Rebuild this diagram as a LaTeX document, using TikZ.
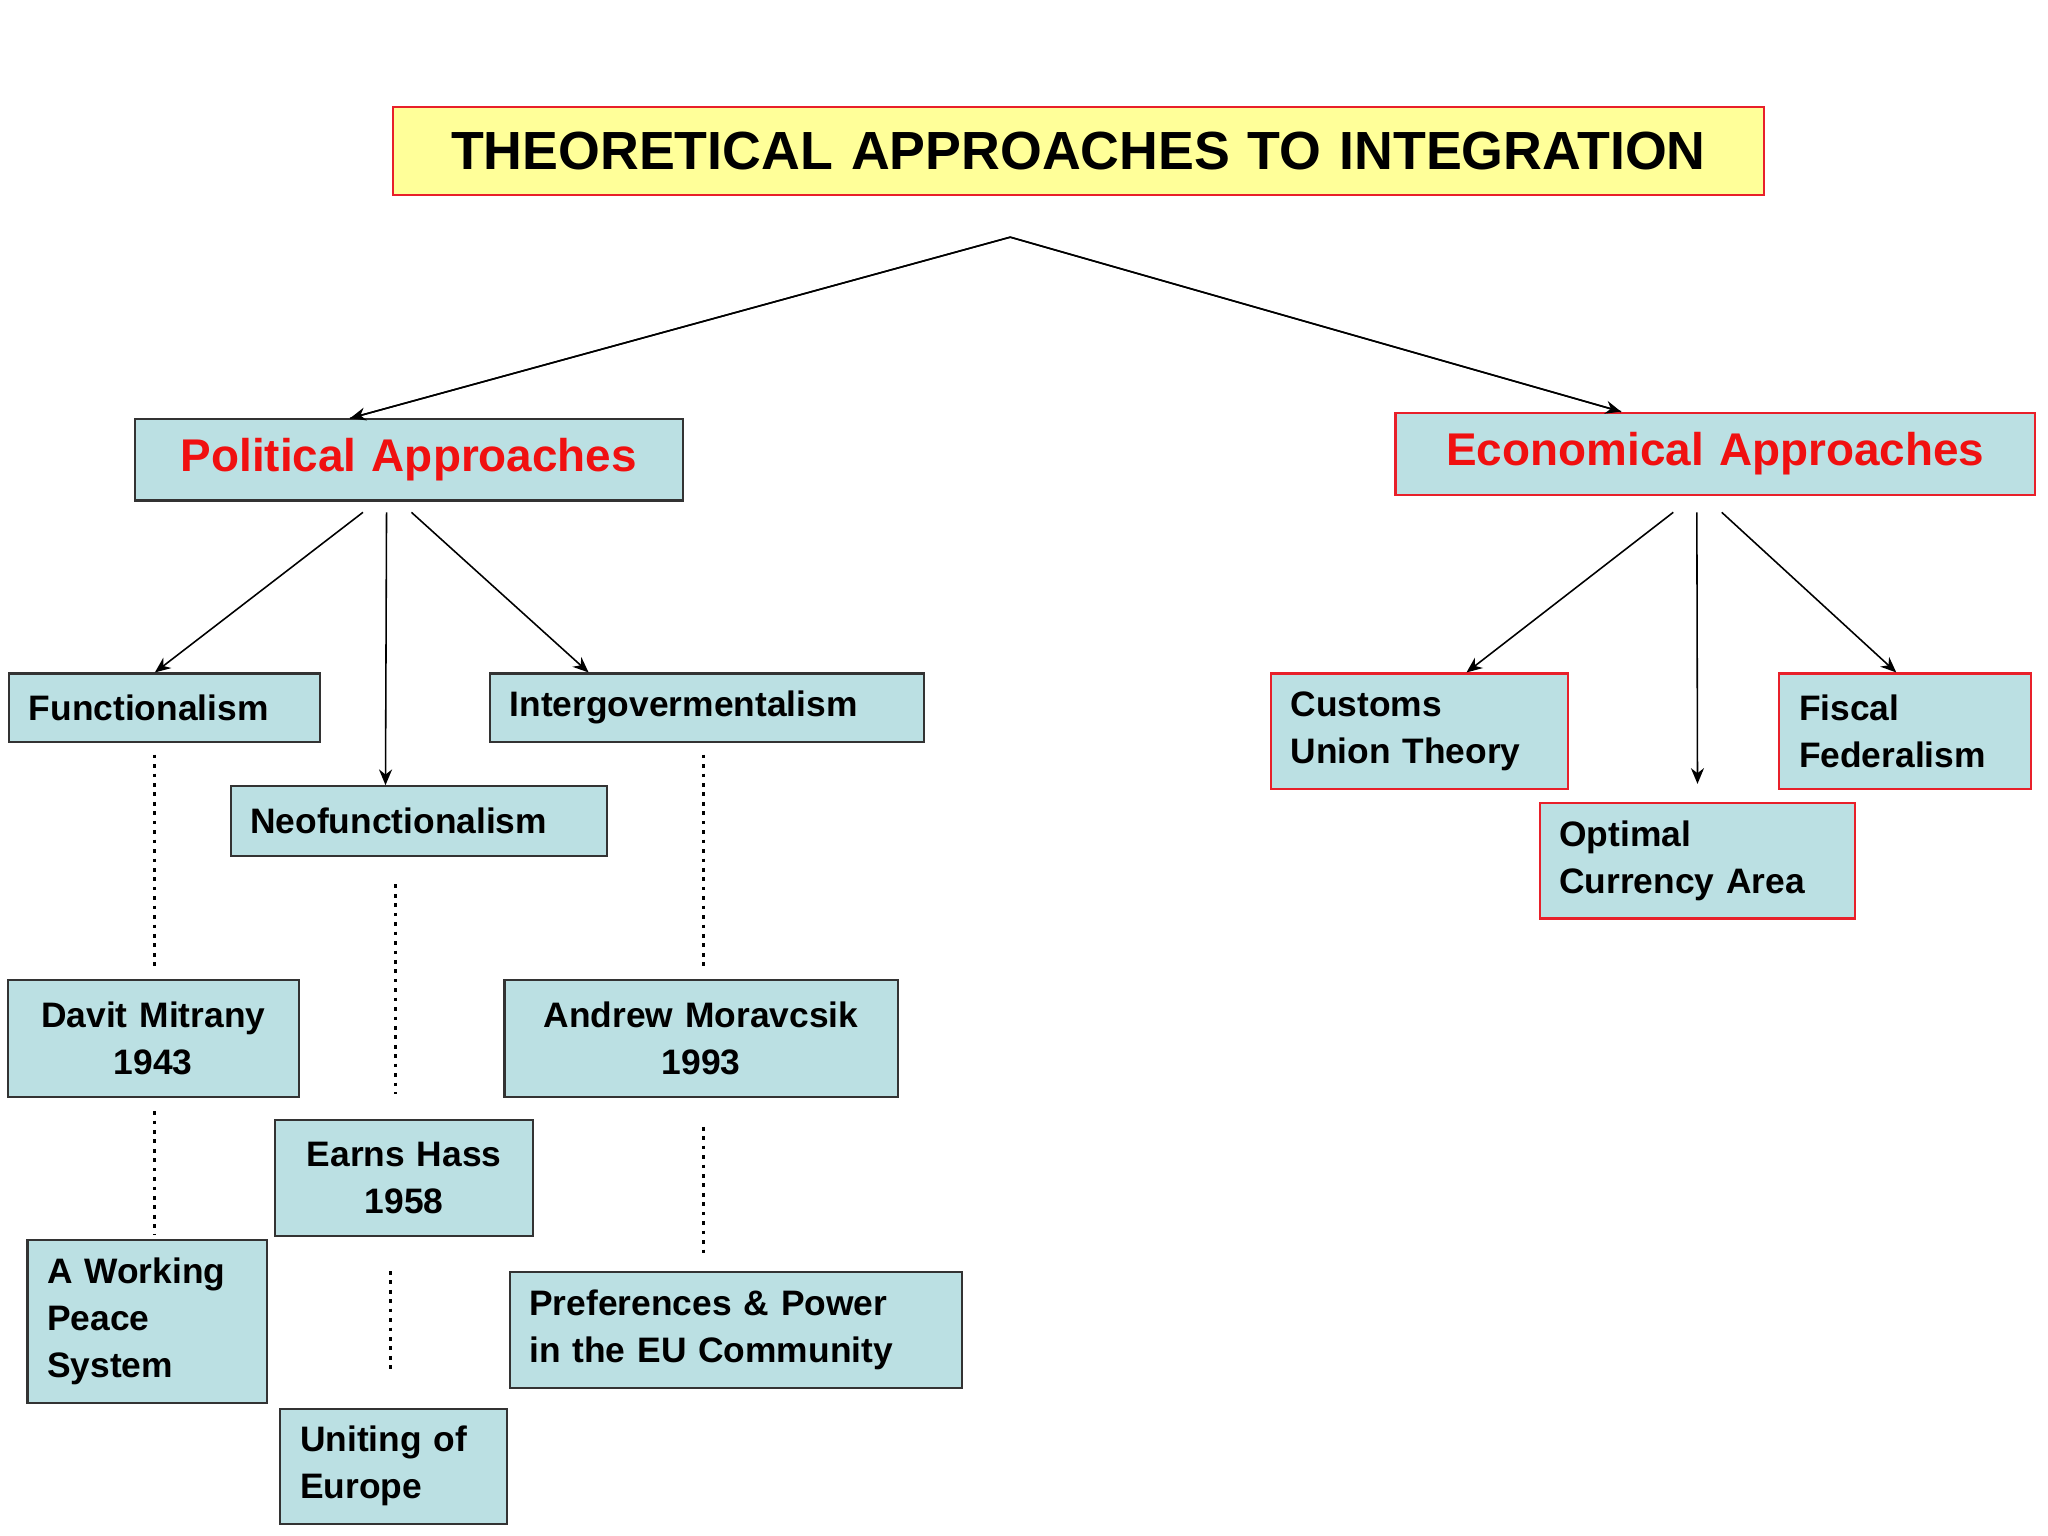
\documentclass[tikz,border=0pt]{standalone}
\usepackage{fontspec}
\setmainfont{Liberation Sans}
\usetikzlibrary{arrows.meta}
\definecolor{boxfill}{HTML}{BBE0E3}
\definecolor{titlefill}{HTML}{FFFF99}
\definecolor{redb}{HTML}{E8202A}
\definecolor{redt}{HTML}{F01010}
\begin{document}
\begin{tikzpicture}[x=0.5pt,y=-0.5pt,
  box/.style={draw=black!80, line width=0.8pt, fill=boxfill, inner xsep=7.5pt, inner ysep=0pt,
    font=\fontsize{13.5}{18}\selectfont\bfseries, align=left},
  rbox/.style={box, draw=redb},
  head/.style={box, align=center, text=redt, font=\fontsize{17.5}{20}\selectfont\bfseries},
  arr/.style={-{Stealth[length=6pt,width=5pt]}, line width=0.6pt},
  dots/.style={line width=1.3pt, dash pattern=on 1.4pt off 2.2pt}]
\useasboundingbox (0,0) rectangle (1563,1172);
\node[box, draw=redb, fill=titlefill, align=center, text width=508pt, minimum height=33.5pt,
  font=\fontsize{20.5}{24}\selectfont\bfseries] (title) at (823,115.5) {THEORETICAL APPROACHES TO INTEGRATION};
\node[head, text width=194pt, minimum height=31pt] (pol) at (312,351) {Political Approaches};
\node[head, draw=redb, text width=229pt, minimum height=31.5pt] (eco) at (1309,346.5) {Economical Approaches};
\node[box, text width=103.5pt, minimum height=26pt] (fun) at (125.5,540) {Functionalism};
\node[box, text width=128.5pt, minimum height=26.5pt] (neo) at (319.5,626.5) {Neofunctionalism};
\node[box, text width=150.5pt, minimum height=26pt] (ig) at (539.5,540) {Intergovermentalism};
\node[box, align=center, text width=96pt, minimum height=44.5pt] (dm) at (117,792.5) {Davit Mitrany\\1943};
\node[box, align=center, text width=83.5pt, minimum height=44pt] (eh) at (308.5,899) {Earns Hass\\1958};
\node[box, align=center, text width=135pt, minimum height=44.5pt] (am) at (535,792.5) {Andrew Moravcsik\\1993};
\node[box, text width=76.5pt, minimum height=62.5pt] (wp) at (112.5,1008.5) {A Working\\Peace\\System};
\node[box, text width=71.5pt, minimum height=44pt] (ue) at (300.5,1119) {Uniting of\\Europe};
\node[box, text width=157.5pt, minimum height=44pt] (pp) at (561.5,1015) {Preferences \& Power\\in the EU Community};
\node[rbox, text width=98.5pt, minimum height=44pt] (cu) at (1083.5,558) {Customs\\Union Theory};
\node[rbox, text width=105.5pt, minimum height=44pt] (oca) at (1295.5,657) {Optimal\\Currency Area};
\node[rbox, text width=81pt, minimum height=44pt] (ff) at (1454,558) {Fiscal\\Federalism};

\coordinate (hub) at (771,181);
\coordinate (p1) at (277,391); \coordinate (p2) at (295,391); \coordinate (p3) at (314,391);
\coordinate (e1) at (1277,391); \coordinate (e2) at (1295,391); \coordinate (e3) at (1314,391);
\draw[line width=0.6pt] ([xshift=82.5pt]pol.north west) -- (hub) -- ([xshift=86.5pt]eco.north west);
\draw[arr] (hub) -- ([xshift=82.5pt]pol.north west);
\draw[arr] (hub) -- ([xshift=86.5pt]eco.north west);
\draw[arr] (p1) -- ([xshift=56pt]fun.north west);
\draw[arr] (p2) -- ([xshift=59.5pt]neo.north west);
\draw[arr] (p3) -- ([xshift=38pt]ig.north west);
\draw[arr] (e1) -- ([xshift=75pt]cu.north west);
\draw[arr] (e2) -- ([yshift=7pt]oca.north);
\draw[arr] (e3) -- ([xshift=45pt]ff.north west);

\coordinate (a1) at (118,576); \coordinate (a2) at (118,737);
\coordinate (b1) at (118,848); \coordinate (b2) at (118,942);
\coordinate (c1) at (302,675); \coordinate (c2) at (302,835);
\coordinate (d1) at (298,970); \coordinate (d2) at (298,1045);
\coordinate (f1) at (537,576); \coordinate (f2) at (537,737);
\coordinate (g1) at (537,860); \coordinate (g2) at (537,957);
\draw[dots] (a1) -- (a2); \draw[dots] (b1) -- (b2);
\draw[dots] (c1) -- (c2); \draw[dots] (d1) -- (d2);
\draw[dots] (f1) -- (f2); \draw[dots] (g1) -- (g2);
\end{tikzpicture}
\end{document}
